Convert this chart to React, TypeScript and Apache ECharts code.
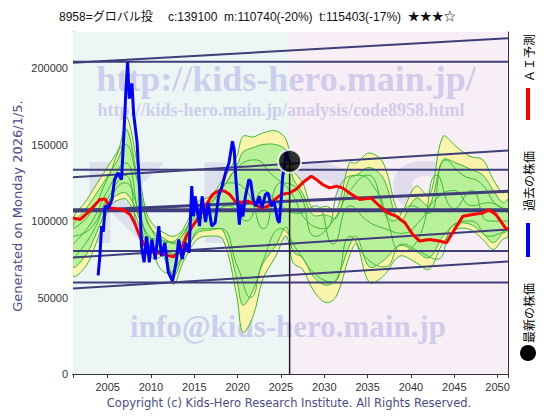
import React, { useEffect, useRef } from 'react';
import * as echarts from 'echarts';

const xMin = 2001;
const xMax = 2051.2;
const yMax = 223600;
const nowYear = 2026.0;
const nowPrice = 139100;

const titleText = '8958=グロバル投\u3000 c:139100  m:110740(-20%)  t:115403(-17%)  ★★★☆';
const yTickLabels = [0, 50000, 100000, 150000, 200000];
const xTickLabels = [2005, 2010, 2015, 2020, 2025, 2030, 2035, 2040, 2045, 2050];

// Fan (AI forecast scenarios) envelopes
const fanYears = [2001, 2002.5, 2003.7, 2005.3, 2006.4, 2007.2, 2008.4, 2009.5, 2010.5, 2011.4,
  2012.6, 2013.7, 2015.3, 2016.8, 2018.3, 2019.9, 2020.6, 2021.8, 2022.9, 2024.4,
  2025.6, 2026.4, 2027.5, 2028.7, 2030.2, 2031.4, 2032.9, 2033.7, 2035.2, 2036.8,
  2038.7, 2040.6, 2042.1, 2043.7, 2045.2, 2046.8, 2048.3, 2049.5, 2050.6, 2051.2];
const yellowHi = [101000, 113000, 124000, 138000, 149000, 168000, 138000, 105000, 96000, 92600,
  90000, 94500, 112000, 116200, 127100, 142300, 155300, 155000, 157600, 159000,
  153200, 133600, 125000, 108000, 109700, 107000, 138000, 138000, 144500, 138000,
  105400, 122800, 116200, 155300, 148800, 142300, 140000, 127100, 118400, 120000];
const yellowLo = [64000, 70600, 86000, 109700, 114100, 114000, 101000, 80000, 75000, 77100,
  58700, 73000, 88000, 90200, 88000, 51000, 27200, 38000, 62000, 77100,
  90200, 72800, 68400, 55000, 46700, 51000, 77100, 85000, 59800, 64000,
  77100, 72800, 68400, 85800, 94500, 94500, 88000, 81500, 88000, 90000];
const greenHi = [97000, 108000, 118000, 132000, 143000, 160000, 130000, 100000, 92000, 89000,
  86000, 91000, 108000, 112000, 122000, 136000, 145000, 148000, 150000, 150000,
  146000, 128000, 118000, 104000, 104000, 102000, 128000, 130000, 135000, 128000,
  100000, 115000, 110000, 140000, 138000, 134000, 130000, 120000, 112000, 114000];
const greenLo = [70000, 78000, 92000, 113000, 118000, 118000, 106000, 84000, 79000, 80000,
  64000, 77000, 92000, 94000, 94000, 62000, 45000, 55000, 72000, 84000,
  96000, 80000, 76000, 64000, 58000, 62000, 84000, 90000, 70000, 74000,
  84000, 80000, 76000, 90000, 98000, 98000, 92000, 86000, 92000, 94000];

// Thin scenario lines
const g1Years = [2001, 2003, 2005, 2007, 2008.5, 2010, 2012, 2014, 2016, 2018, 2020, 2022, 2024, 2026, 2028, 2030, 2032, 2034, 2036, 2038, 2040, 2042, 2044, 2046, 2048, 2050, 2051.2];
const g1Vals = [95000, 105000, 128000, 150000, 125000, 95000, 86000, 95000, 110000, 120000, 135000, 140000, 130000, 120000, 100000, 95000, 125000, 130000, 120000, 100000, 110000, 105000, 140000, 130000, 125000, 110000, 108000];
const g2Years = [2001, 2003, 2005, 2007, 2008.5, 2010, 2012, 2014, 2016, 2018, 2020, 2021.5, 2023, 2025, 2027, 2029, 2031, 2033, 2035, 2037, 2039, 2041, 2043, 2045, 2047, 2049, 2051.2];
const g2Vals = [75000, 90000, 112000, 125000, 108000, 82000, 66000, 80000, 95000, 95000, 70000, 50000, 75000, 95000, 80000, 65000, 60000, 90000, 75000, 70000, 85000, 80000, 75000, 98000, 100000, 90000, 95000];
const g3Years = [2001, 2003, 2005, 2007, 2009, 2011, 2013, 2015, 2017, 2019, 2021, 2023, 2025, 2027, 2029, 2031, 2033, 2035, 2037, 2039, 2041, 2043, 2045, 2047, 2049, 2051.2];
const g3Vals = [85000, 98000, 120000, 138000, 98000, 84000, 78000, 98000, 105000, 110000, 100000, 120000, 110000, 105000, 110000, 85000, 110000, 100000, 95000, 92000, 100000, 115000, 120000, 110000, 112000, 105000];
const g4Vals = [90000, 95000, 115000, 130000, 90000, 88000, 85000, 105000, 112000, 125000, 120000, 95000, 125000, 120000, 90000, 100000, 120000, 130000, 105000, 80000, 90000, 130000, 108000, 120000, 100000, 100000];

// AI forecast (red)
const aiYears = [2001.0, 2001.8, 2002.9, 2004.1, 2004.7, 2005.3, 2006.0, 2006.8, 2007.6, 2008.1, 2008.7, 2009.3, 2010.2, 2011.4, 2012.6, 2013.5, 2014.1, 2014.8, 2015.6, 2016.4, 2017.1, 2017.9, 2018.5, 2019.1, 2019.7, 2020.4, 2021.2, 2022.0, 2022.7, 2023.5, 2024.3, 2025.0, 2026.0, 2026.7, 2027.7, 2028.5, 2029.1, 2029.8, 2030.6, 2031.4, 2032.1, 2032.9, 2034.1, 2035.4, 2036.4, 2037.3, 2038.3, 2039.3, 2040.2, 2041.0, 2042.1, 2043.3, 2044.1, 2044.8, 2046.0, 2047.1, 2048.3, 2049.0, 2049.8, 2050.9, 2051.2];
const aiVals = [102000, 101000, 106500, 114100, 114400, 108600, 108000, 107400, 104300, 98900, 90200, 83700, 80400, 78200, 76700, 81500, 90200, 96700, 103200, 110800, 117300, 120200, 119500, 117300, 113000, 112300, 113000, 110800, 108600, 109700, 114100, 117300, 118400, 120600, 126000, 129300, 127100, 123900, 121700, 122800, 121700, 118400, 114100, 115100, 109700, 105300, 103200, 98900, 91300, 86900, 88000, 86900, 85800, 92300, 103200, 104300, 105300, 107400, 104300, 95600, 94500];

// Past price (blue)
const pastYears = [2003.9, 2004.1, 2004.3, 2004.5, 2004.7, 2005.1, 2005.5, 2005.8, 2006.2, 2006.6, 2006.9, 2007.1, 2007.3, 2007.5, 2007.8, 2008.0, 2008.4, 2008.7, 2008.9, 2009.2, 2009.5, 2009.8, 2010.1, 2010.5, 2010.9, 2011.2, 2011.6, 2012.0, 2012.5, 2012.9, 2013.2, 2013.6, 2014.0, 2014.4, 2014.7, 2014.9, 2015.1, 2015.6, 2015.9, 2016.3, 2016.6, 2017.0, 2017.4, 2017.8, 2018.2, 2018.6, 2019.0, 2019.4, 2019.6, 2019.8, 2020.2, 2020.4, 2020.6, 2020.9, 2021.3, 2021.5, 2021.8, 2022.1, 2022.5, 2022.8, 2023.2, 2023.5, 2023.9, 2024.2, 2024.6, 2024.8, 2025.0, 2025.2, 2025.4, 2025.6, 2025.8, 2026.0];
const pastVals = [64500, 77000, 96700, 93000, 109700, 108600, 114100, 127100, 131400, 127100, 160000, 185000, 204000, 180000, 190000, 170000, 151000, 118700, 83700, 73000, 90000, 73000, 88000, 75000, 96700, 77000, 85800, 66500, 60800, 73000, 88000, 75000, 85800, 79300, 122800, 103200, 116200, 96700, 116200, 99400, 111900, 96700, 98800, 116200, 122800, 131400, 138000, 152100, 146700, 127100, 97600, 110800, 103000, 116200, 127100, 126000, 114100, 109700, 116200, 108600, 117300, 118400, 109700, 113000, 101000, 98800, 111900, 129300, 135800, 146700, 140000, 139100];

// Support / resistance lines: value at xMin and at xMax
const trendStart = [204200, 203500, 133600, 128600, 107100, 106500, 80400, 76100, 59800, 55900];
const trendEnd = [204200, 219500, 133600, 146200, 107100, 119500, 80400, 94500, 59800, 73500];
const trendWidth = [2, 2, 2, 2, 4, 3, 2, 2, 2, 2];

const pairs = (xs: number[], ys: number[]) => xs.map((x, i) => [x, ys[i]]);

const FAN_LINE = '#3cb832';

function bandSeries(hi: number[], lo: number[], fill: string, z: number): any {
  return {
    type: 'custom', z, silent: true, clip: true,
    data: [[xMin, 0]],
    renderItem: (params: any, api: any) => {
      const top = fanYears.map((x, i) => api.coord([x, hi[i]]));
      const bottom = fanYears.map((x, i) => api.coord([x, lo[i]])).reverse();
      return {
        type: 'polygon',
        shape: { points: top.concat(bottom), smooth: 0.35 },
        style: { fill, stroke: FAN_LINE, lineWidth: 1 },
      };
    },
  };
}

function buildOption(): any {
  const series: any[] = [];
  series.push({
    type: 'line', data: [[xMin, 0]], symbol: 'none', silent: true, z: 0,
    lineStyle: { width: 0 },
    markArea: {
      silent: true,
      data: [
        [{ xAxis: xMin, itemStyle: { color: '#edf5f5' } }, { xAxis: nowYear }],
        [{ xAxis: nowYear, itemStyle: { color: '#f8eef5' } }, { xAxis: xMax }],
      ],
    },
  });
  series.push(bandSeries(yellowHi, yellowLo, '#fbf4ac', 2));
  series.push(bandSeries(greenHi, greenLo, '#b9f09a', 2.5));
  [pairs(g1Years, g1Vals), pairs(g2Years, g2Vals), pairs(g3Years, g3Vals), pairs(g3Years, g4Vals)].forEach((d) => {
    series.push({ type: 'line', data: d, smooth: 0.5, symbol: 'none', z: 3, silent: true, lineStyle: { color: FAN_LINE, width: 1 } });
  });
  trendStart.forEach((v, i) => {
    series.push({ type: 'line', data: [[xMin, v], [xMax, trendEnd[i]]], symbol: 'none', z: 4, silent: true, lineStyle: { color: '#3e3e7a', width: trendWidth[i] } });
  });
  series.push({ type: 'line', data: pairs(aiYears, aiVals), symbol: 'none', z: 5, lineStyle: { color: '#ff0000', width: 3 } });
  series.push({ type: 'line', data: pairs(pastYears, pastVals), symbol: 'none', z: 6, lineStyle: { color: '#0000ff', width: 3 } });
  series.push({ type: 'line', data: [[nowYear, 0], [nowYear, nowPrice]], symbol: 'none', z: 7, lineStyle: { color: '#222222', width: 1.5 } });
  series.push({ type: 'scatter', data: [[nowYear, nowPrice]], symbolSize: 23, z: 8, itemStyle: { color: '#000000', borderColor: '#ffffff', borderWidth: 2 } });

  const xCommon = {
    type: 'value', min: xMin, max: xMax, splitNumber: 10, minInterval: 5, maxInterval: 5,
    axisLine: { show: true, lineStyle: { color: '#333', width: 1 } },
    axisTick: { show: true, inside: true, length: 4, lineStyle: { color: '#333' } },
  };
  const yCommon = {
    type: 'value', min: 0, max: yMax, interval: 50000,
    axisLine: { show: true, lineStyle: { color: '#333', width: 1 } },
    axisTick: { show: true, inside: true, length: 4, lineStyle: { color: '#333' } },
    splitLine: { show: false },
  };
  const wm = (text: string, x: number, y: number, size: number, fill: string, family = '"Liberation Serif", "DejaVu Serif", serif') => ({
    type: 'text', x, y, z: 1.5, silent: true,
    style: { text, font: `bold ${size}px ${family}`, fill, align: 'center', verticalAlign: 'middle' },
  });
  const sans = '"DejaVu Sans", "Noto Sans CJK JP", sans-serif';
  const cjk = '"Noto Sans CJK JP", sans-serif';
  const wmColor = 'rgba(184,184,232,0.65)';
  const bigColor = 'rgba(205,205,228,0.55)';

  return {
    animation: false,
    backgroundColor: '#ffffff',
    grid: { left: 73, right: 52, top: 32, bottom: 46, containLabel: false },
    xAxis: [
      { ...xCommon, position: 'bottom',
        axisLabel: { show: true, color: '#333', fontSize: 11, fontFamily: '"Liberation Sans", Arial, sans-serif', margin: 7,
          formatter: (v: number) => (xTickLabels.indexOf(Math.round(v * 10) / 10) >= 0 ? String(v) : '') },
        splitLine: { show: true, lineStyle: { color: '#ffffff', width: 1.5 } } },
      { ...xCommon, position: 'top', axisLabel: { show: false }, splitLine: { show: false } },
    ],
    yAxis: [
      { ...yCommon, position: 'left',
        axisLabel: { show: true, color: '#333', fontSize: 11, fontFamily: '"Liberation Sans", Arial, sans-serif', margin: 5,
          formatter: (v: number) => (yTickLabels.indexOf(v) >= 0 ? String(v) : '') } },
      { ...yCommon, position: 'right', axisLabel: { show: false } },
    ],
    series,
    graphic: [
      wm('http://kids-hero.main.jp/', 286, 79, 36, wmColor),
      wm('http://kids-hero.main.jp/analysis/code8958.html', 281, 110, 18, wmColor),
      wm('info@kids-hero.main.jp', 288, 326, 31, wmColor),
      wm('K', 122, 205, 110, bigColor, '"DejaVu Sans", sans-serif'),
      wm('I', 215, 205, 110, bigColor, '"DejaVu Sans", sans-serif'),
      wm('D', 320, 205, 110, bigColor, '"DejaVu Sans", sans-serif'),
      wm('S', 425, 205, 110, bigColor, '"DejaVu Sans", sans-serif'),
      { type: 'text', x: 59, y: 17, z: 10, style: { text: titleText, font: `12px "Liberation Sans", ${cjk}`, fill: '#111', align: 'left', verticalAlign: 'middle' } },
      { type: 'text', x: 17, y: 206, rotation: Math.PI / 2, z: 10, style: { text: 'Generated on Monday 2026/1/5.', font: `13px ${sans}`, fill: '#4a4a8c', align: 'center', verticalAlign: 'middle' } },
      { type: 'text', x: 289, y: 403, z: 10, style: { text: 'Copyright (c) Kids-Hero Research Institute. All Rights Reserved.', font: `11.5px ${sans}`, fill: '#4a4a8c', align: 'center', verticalAlign: 'middle' } },
      { type: 'text', x: 528, y: 58, rotation: Math.PI / 2, z: 10, style: { text: 'ＡＩ予測', font: `12px ${cjk}`, fill: '#000', align: 'center', verticalAlign: 'middle' } },
      { type: 'rect', z: 10, shape: { x: 526, y: 88, width: 4, height: 32 }, style: { fill: '#ff0000' } },
      { type: 'text', x: 528, y: 181, rotation: Math.PI / 2, z: 10, style: { text: '過去の株価', font: `12px ${cjk}`, fill: '#000', align: 'center', verticalAlign: 'middle' } },
      { type: 'rect', z: 10, shape: { x: 526, y: 223, width: 4, height: 34 }, style: { fill: '#0000ff' } },
      { type: 'text', x: 528, y: 313, rotation: Math.PI / 2, z: 10, style: { text: '最新の株価', font: `12px ${cjk}`, fill: '#000', align: 'center', verticalAlign: 'middle' } },
      { type: 'circle', z: 10, shape: { cx: 528, cy: 353, r: 8 }, style: { fill: '#000' } },
    ],
  };
}

export default function App() {
  const ref = useRef<HTMLDivElement>(null);
  useEffect(() => {
    document.body.style.margin = '0';
    const chart = echarts.init(ref.current as HTMLDivElement, null, { renderer: 'svg' });
    chart.setOption(buildOption());
    return () => chart.dispose();
  }, []);
  return <div ref={ref} style={{ width: 560, height: 420 }} />;
}
